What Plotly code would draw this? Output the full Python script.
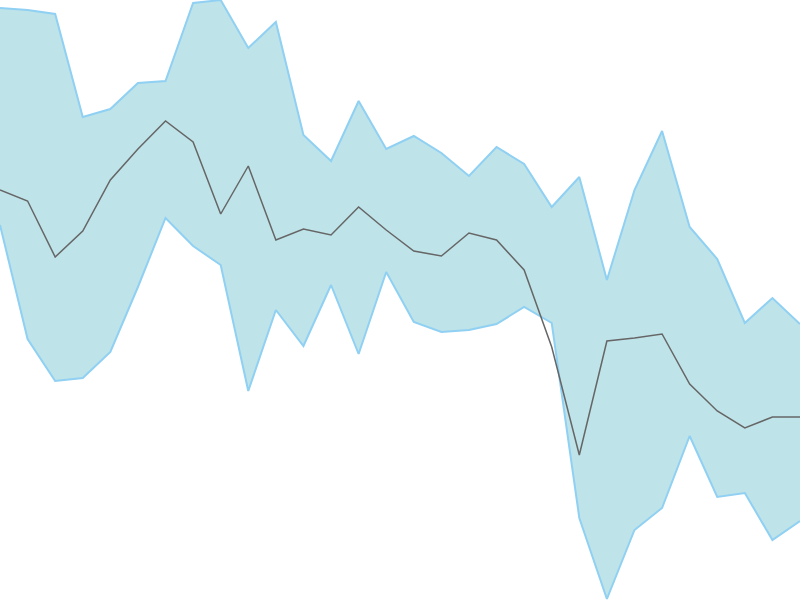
import plotly.graph_objects as go

x = list(range(30))
upper_px = [8, 10, 14, 117, 109, 83, 81, 3, 0, 48, 22, 135, 161, 101, 149, 136, 153, 176, 147, 164,
            207, 177, 280, 190, 131, 227, 259, 323, 298, 324]
middle_px = [190, 201, 257, 231, 180, 149, 121, 142, 214, 166, 240, 229, 235, 207, 230, 251, 256, 233, 240, 270,
             347, 455, 341, 338, 334, 384, 411, 428, 417, 417]
lower_px = [225, 339, 381, 378, 352, 287, 218, 246, 265, 391, 310, 346, 285, 354, 272, 322, 332, 330, 324, 307,
            323, 518, 599, 530, 508, 436, 497, 493, 540, 521]

upper = [600 - v for v in upper_px]
middle = [600 - v for v in middle_px]
lower = [600 - v for v in lower_px]

fig = go.Figure()
fig.add_trace(go.Scatter(x=x, y=upper, mode="lines", line=dict(color="#8fd0f3", width=2),
                         hoverinfo="skip", showlegend=False))
fig.add_trace(go.Scatter(x=x, y=lower, mode="lines", line=dict(color="#8fd0f3", width=2),
                         fill="tonexty", fillcolor="rgb(190,227,233)", showlegend=False))
fig.add_trace(go.Scatter(x=x, y=middle, mode="lines", line=dict(color="#666666", width=1.5),
                         showlegend=False))

fig.update_layout(
    width=800, height=600,
    margin=dict(l=0, r=0, t=0, b=0),
    paper_bgcolor="white", plot_bgcolor="white",
    hovermode=False,
    xaxis=dict(range=[0, 29], visible=False),
    yaxis=dict(range=[0, 600], visible=False),
)
fig.write_html("out.html",
               config={"displayModeBar": False, "staticPlot": True},
               post_script="document.body.style.margin='0';document.body.style.overflow='hidden';")
